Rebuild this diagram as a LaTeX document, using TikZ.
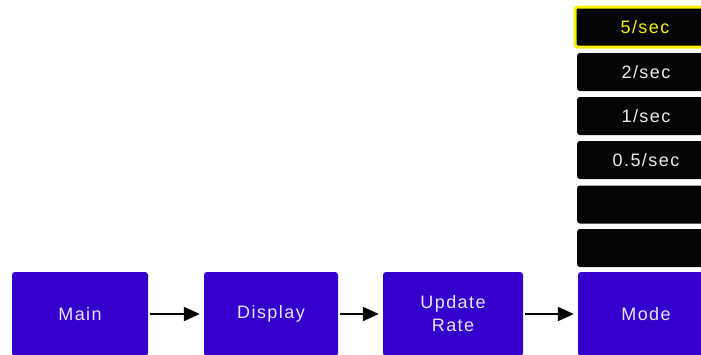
\documentclass[tikz,border=0pt]{standalone}
\usepackage{fontspec}
\setmainfont{Liberation Sans}[LetterSpace=8]
\usetikzlibrary{arrows.meta}
\definecolor{boxblue}{RGB}{51,0,204}
\definecolor{bluetext}{RGB}{235,228,255}
\definecolor{menutext}{RGB}{235,235,235}
\definecolor{selyellow}{RGB}{245,240,0}
\tikzset{
  bluebox/.style={fill=boxblue, draw=none, rounded corners=3pt, minimum width=136pt,
    minimum height=84pt, inner sep=0pt, text=bluetext, align=center,
    font=\fontsize{18}{23}\selectfont},
  menubox/.style={fill=black!98, draw=none, rounded corners=3pt, minimum width=138pt,
    minimum height=38pt, inner sep=0pt, text=menutext, font=\fontsize{18}{20}\selectfont},
  selbox/.style={menubox, draw=selyellow, line width=3pt, text=selyellow, minimum height=40pt},
  flow/.style={line width=2pt, -{Triangle[length=16pt,width=14pt]}, shorten <=2pt, shorten >=4pt}
}
\begin{document}
\begin{tikzpicture}[x=1pt,y=-1pt]
\useasboundingbox[fill=white] (0,0) rectangle (701,354);
\node[bluebox] (main) at (80,314) {Main};
\node[bluebox, minimum width=134pt] (display) at (271,314) {Display};
\node[bluebox, minimum width=140pt] (update) at (453,314) {Update\\Rate};
\node[bluebox] (mode) at (646,314) {Mode};
\node[selbox, minimum width=140pt] (m1) at (645,27) {5/sec};
\node[menubox] (m2) at (646,72) {2/sec};
\node[menubox] (m3) at (646,116) {1/sec};
\node[menubox] (m4) at (646,160) {0.5/sec};
\node[menubox] (m5) at (646,204.5) {};
\node[menubox] (m6) at (646,248) {};
\draw[flow] (main) -- (display);
\draw[flow] (display) -- (update);
\draw[flow] (update) -- (mode);
\end{tikzpicture}
\end{document}
